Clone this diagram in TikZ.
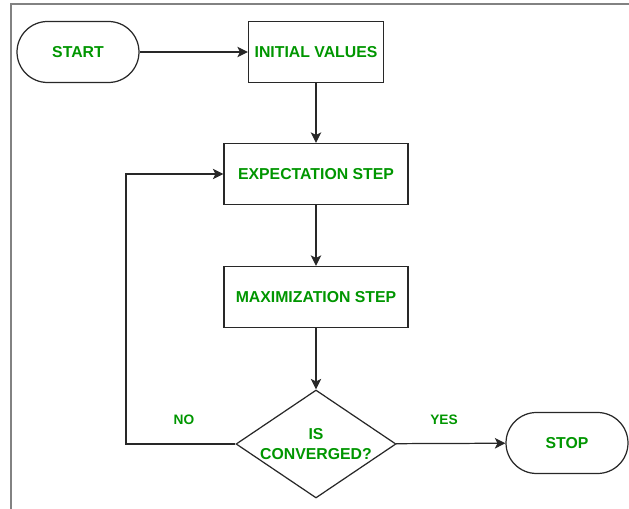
\documentclass[tikz,border=0pt]{standalone}
\usepackage{fontspec}
\setmainfont{Liberation Sans}
\usepackage{tikz}
\usetikzlibrary{shapes.geometric, arrows.meta, positioning, calc}
\definecolor{mygreen}{RGB}{0,150,0}
\definecolor{mydark}{RGB}{40,40,40}
\definecolor{mgframe}{RGB}{130,130,130}
\tikzset{
  block/.style={rectangle, draw=mydark, fill=white,
    minimum width=3.68cm, minimum height=1.22cm,
    font=\fontsize{9}{11}\selectfont\bfseries, text=mygreen, line width=0.7pt},
  termnode/.style={rectangle, draw=mydark, fill=white, rounded corners=0.61cm,
    minimum width=2.44cm, minimum height=1.22cm,
    font=\fontsize{9}{11}\selectfont\bfseries, text=mygreen, line width=0.7pt},
  decision/.style={diamond, draw=mydark, fill=white, aspect=1.48, inner sep=0pt,
    minimum width=3.2cm, minimum height=2.16cm, align=center,
    font=\fontsize{9}{11}\selectfont\bfseries, text=mygreen, line width=0.7pt},
  lbl/.style={font=\fontsize{7.8}{9}\selectfont\bfseries, text=mygreen},
  arrow/.style={-{Stealth[length=6pt,width=6pt,inset=1.5pt]}, line width=0.7pt, color=mydark},
  line/.style={line width=0.7pt, color=mydark}
}
\begin{document}
\begin{tikzpicture}[x=0.02cm, y=-0.02cm]
  \useasboundingbox (0,0) rectangle (629,509);
  % frame
  \draw[mgframe, line width=0.6pt] (11,509) -- (11,4) -- (629,4);
  % nodes
  \node[termnode] (start) at (78,52) {START};
  \node[block, minimum width=2.7cm] (init) at (316,52) {INITIAL VALUES};
  \node[block] (estep) at (316,174) {EXPECTATION STEP};
  \node[block] (mstep) at (316,297) {MAXIMIZATION STEP};
  \node[decision] (conv) at (316,444) {IS\\CONVERGED?};
  \node[termnode] (stop) at (567,443) {STOP};
  \coordinate (loop) at (126,444);
  % connectors
  \draw[arrow] (start) -- (init);
  \draw[arrow] (init) -- (estep);
  \draw[arrow] (estep) -- (mstep);
  \draw[arrow] (mstep) -- (conv);
  \draw[arrow] (conv) -- (stop);
  \draw[arrow] (conv.west) -- (loop) |- (estep.west);
  % Labels
  \node[lbl] (no) at (184,420) {NO};
  \node[lbl] (yes) at (444,420) {YES};
\end{tikzpicture}
\end{document}
